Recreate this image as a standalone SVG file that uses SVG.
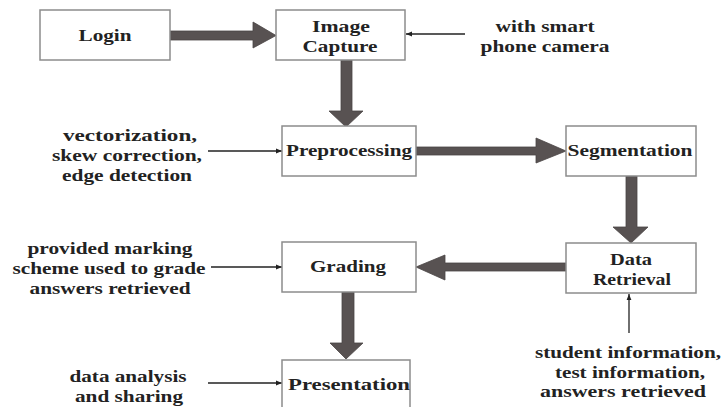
<svg xmlns="http://www.w3.org/2000/svg" width="726" height="407" viewBox="0 0 726 407">
<defs>
<style>
.box{fill:#fff;stroke:#8c8c8c;stroke-width:1.5}
.t{font-family:'Liberation Serif','Times New Roman',serif;font-weight:bold;font-size:17px;fill:#222;text-anchor:middle}
.thick{fill:#585252;stroke:#4a4545;stroke-width:0.8}
.thin{stroke:#222;stroke-width:1.3;fill:none;marker-end:url(#ah)}
</style>
<marker id="ah" viewBox="0 0 10 10" refX="10" refY="5" markerWidth="6" markerHeight="6" orient="auto" markerUnits="userSpaceOnUse">
<path d="M0,1 L10,5 L0,9 Z" fill="#222"/>
</marker>
</defs>
<rect width="726" height="407" fill="#fff"/>
<g id="connectors">
<polygon class="thick" points="170,31 253,31 253,22 276,35.5 253,48 253,40 170,40"/>
<polygon class="thick" points="341,60 352,60 352,111 363,111 346,127 329,111 341,111"/>
<polygon class="thick" points="416,147 536,147 536,138 566,151 536,163 536,155 416,155"/>
<polygon class="thick" points="626,176 637,176 637,227 648,227 631,243 613,227 626,227"/>
<polygon class="thick" points="566,263 445,263 445,255 416,267 445,280 445,271 566,271"/>
<polygon class="thick" points="342,292 354,292 354,343 363,343 346,359 330,343 342,343"/>
<line class="thin" x1="465" y1="34" x2="406" y2="34"/>
<line class="thin" x1="208" y1="151" x2="282" y2="151"/>
<line class="thin" x1="211" y1="267" x2="282" y2="267"/>
<line class="thin" x1="208" y1="383" x2="282" y2="383"/>
<line class="thin" x1="629" y1="333" x2="629" y2="294"/>
</g>
<g id="login"><rect class="box" x="40" y="10" width="130" height="50"/><text class="t" x="105" y="41" textLength="53" lengthAdjust="spacingAndGlyphs">Login</text></g>
<g id="image-capture"><rect class="box" x="276" y="10" width="129" height="50"/><text class="t" x="341" y="32" textLength="58" lengthAdjust="spacingAndGlyphs">Image</text><text class="t" x="340" y="52" textLength="75" lengthAdjust="spacingAndGlyphs">Capture</text></g>
<g id="smart-note"><text class="t" x="545" y="32" textLength="99" lengthAdjust="spacingAndGlyphs">with smart</text><text class="t" x="545" y="52" textLength="129" lengthAdjust="spacingAndGlyphs">phone camera</text></g>
<g id="preprocessing"><rect class="box" x="282" y="126" width="134" height="50"/><text class="t" x="349" y="156" textLength="126" lengthAdjust="spacingAndGlyphs">Preprocessing</text></g>
<g id="pre-note"><text class="t" x="130" y="141" textLength="134" lengthAdjust="spacingAndGlyphs">vectorization,</text><text class="t" x="127" y="161" textLength="150" lengthAdjust="spacingAndGlyphs">skew correction,</text><text class="t" x="127" y="181" textLength="130" lengthAdjust="spacingAndGlyphs">edge detection</text></g>
<g id="segmentation"><rect class="box" x="566" y="126" width="130" height="50"/><text class="t" x="630" y="156" textLength="125" lengthAdjust="spacingAndGlyphs">Segmentation</text></g>
<g id="data-retrieval"><rect class="box" x="566" y="243" width="130" height="50"/><text class="t" x="631" y="265" textLength="42" lengthAdjust="spacingAndGlyphs">Data</text><text class="t" x="632" y="285" textLength="78" lengthAdjust="spacingAndGlyphs">Retrieval</text></g>
<g id="grading"><rect class="box" x="282" y="242" width="134" height="50"/><text class="t" x="348" y="272" textLength="76" lengthAdjust="spacingAndGlyphs">Grading</text></g>
<g id="grading-note"><text class="t" x="110" y="254" textLength="165" lengthAdjust="spacingAndGlyphs">provided marking</text><text class="t" x="109" y="274" textLength="193" lengthAdjust="spacingAndGlyphs">scheme used to grade</text><text class="t" x="110" y="294" textLength="161" lengthAdjust="spacingAndGlyphs">answers retrieved</text></g>
<g id="presentation"><rect class="box" x="282" y="360" width="128" height="60"/><text class="t" x="349" y="390" textLength="122" lengthAdjust="spacingAndGlyphs">Presentation</text></g>
<g id="presentation-note"><text class="t" x="128" y="382" textLength="117" lengthAdjust="spacingAndGlyphs">data analysis</text><text class="t" x="129" y="402" textLength="108" lengthAdjust="spacingAndGlyphs">and sharing</text></g>
<g id="retrieval-note"><text class="t" x="628" y="358" textLength="186" lengthAdjust="spacingAndGlyphs">student information,</text><text class="t" x="630" y="378" textLength="150" lengthAdjust="spacingAndGlyphs">test information,</text><text class="t" x="623" y="397" textLength="166" lengthAdjust="spacingAndGlyphs">answers retrieved</text></g>
</svg>
